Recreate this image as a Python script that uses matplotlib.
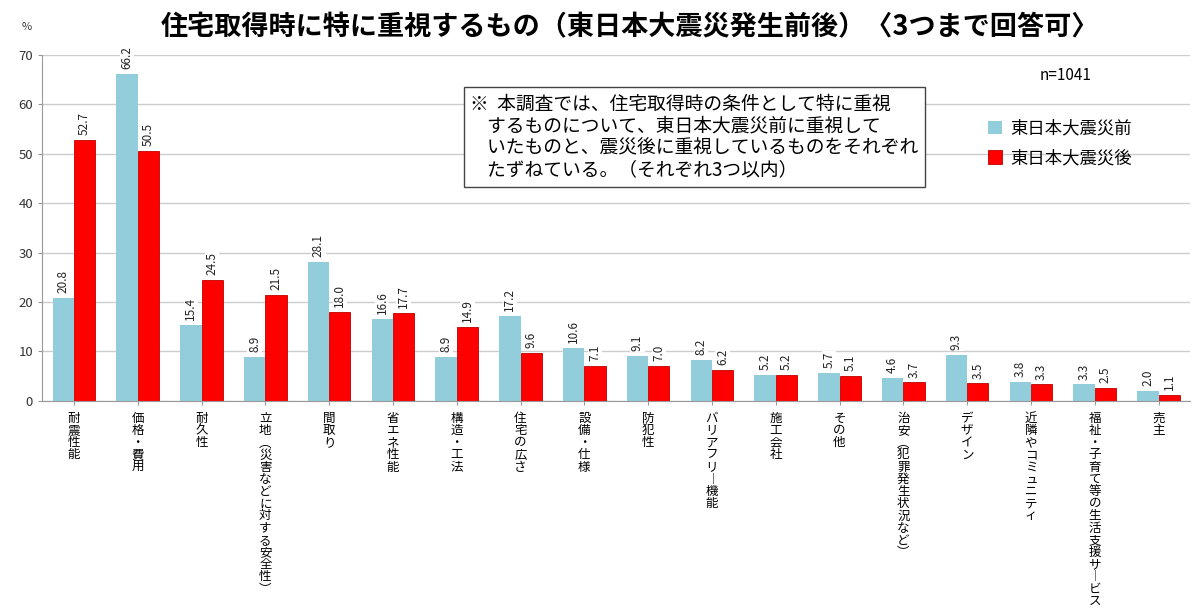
import matplotlib
matplotlib.use("Agg")
import matplotlib.pyplot as plt
import numpy as np

plt.rcParams['font.family'] = ['Noto Sans CJK JP', 'DejaVu Sans']

categories = ["耐震性能", "価格・費用", "耐久性", "立地（災害などに対する安全性）", "間取り",
              "省エネ性能", "構造・工法", "住宅の広さ", "設備・仕様", "防犯性",
              "バリアフリー機能", "施工会社", "その他", "治安（犯罪発生状況など）", "デザイン",
              "近隣やコミュニティ", "福祉・子育て等の生活支援サービス", "売主"]
before = [20.8, 66.2, 15.4, 8.9, 28.1, 16.6, 8.9, 17.2, 10.6, 9.1, 8.2, 5.2, 5.7, 4.6, 9.3, 3.8, 3.3, 2.0]
after = [52.7, 50.5, 24.5, 21.5, 18.0, 17.7, 14.9, 9.6, 7.1, 7.0, 6.2, 5.2, 5.1, 3.7, 3.5, 3.3, 2.5, 1.1]
series_names = ["東日本大震災前", "東日本大震災後"]
yticks = [0, 10, 20, 30, 40, 50, 60, 70]

def vertical(s):
    table = {"ー": "︱", "（": "︵", "）": "︶"}
    return "\n".join(table.get(c, c) for c in s)

fig = plt.figure(figsize=(12, 6.1), dpi=100)
ax = fig.add_axes([0.035, 0.343, 0.957, 0.567])

x = np.arange(len(categories))
w = 0.335
c_before = "#92CDDC"
c_after = "#FF0000"
b1 = ax.bar(x - w / 2, before, w, color=c_before, label=series_names[0], zorder=2)
b2 = ax.bar(x + w / 2, after, w, color=c_after, edgecolor="#C00000", linewidth=0.6,
            label=series_names[1], zorder=2)

for bars, vals in ((b1, before), (b2, after)):
    for r, v in zip(bars, vals):
        ax.text(r.get_x() + r.get_width() / 2, v + 1.0, f"{v:.1f}", rotation=90,
                ha="center", va="bottom", fontsize=8.5, color="#222222",
                bbox=dict(facecolor="white", edgecolor="none", pad=0.5), zorder=3)

ax.set_xlim(-0.5, len(categories) - 0.5)
ax.set_ylim(0, 70)
ax.set_yticks(yticks)
ax.tick_params(axis="y", labelsize=9.5, colors="#333333", length=3, color="#999999")
ax.set_xticks(x)
ax.set_xticklabels([vertical(c) for c in categories], fontsize=9, linespacing=0.92,
                   va="top")
ax.tick_params(axis="x", length=3, color="#999999", pad=5)
ax.yaxis.grid(True, color="#CCCCCC", linewidth=1.0, zorder=0)
ax.set_axisbelow(True)
for s in ["top", "right"]:
    ax.spines[s].set_visible(False)
ax.spines["left"].set_color("#999999")
ax.spines["bottom"].set_color("#999999")

fig.text(0.022, 0.955, "%", fontsize=8, ha="center", va="center", color="#333333")
fig.text(0.525, 0.955, "住宅取得時に特に重視するもの（東日本大震災発生前後）〈3つまで回答可〉",
         fontsize=19.5, fontweight="bold", ha="center", va="center")
fig.text(0.866, 0.877, "n=1041", fontsize=11, ha="left", va="center")

note = ("※  本調査では、住宅取得時の条件として特に重視\n"
        "    するものについて、東日本大震災前に重視して\n"
        "    いたものと、震災後に重視しているものをそれぞれ\n"
        "    たずねている。（それぞれ3つ以内）")
fig.text(0.392, 0.775, note, fontsize=13.5, ha="left", va="center", linespacing=1.05,
         bbox=dict(facecolor="white", edgecolor="#444444", linewidth=1.0, boxstyle="square,pad=0.35"))

fig.legend(handles=[b1, b2], labels=series_names, loc="center left",
           bbox_to_anchor=(0.81, 0.765), frameon=False, fontsize=12.5,
           handlelength=0.8, handleheight=0.8, labelspacing=0.65, handletextpad=0.5)

fig.savefig("out.png", dpi=100, facecolor="white")
